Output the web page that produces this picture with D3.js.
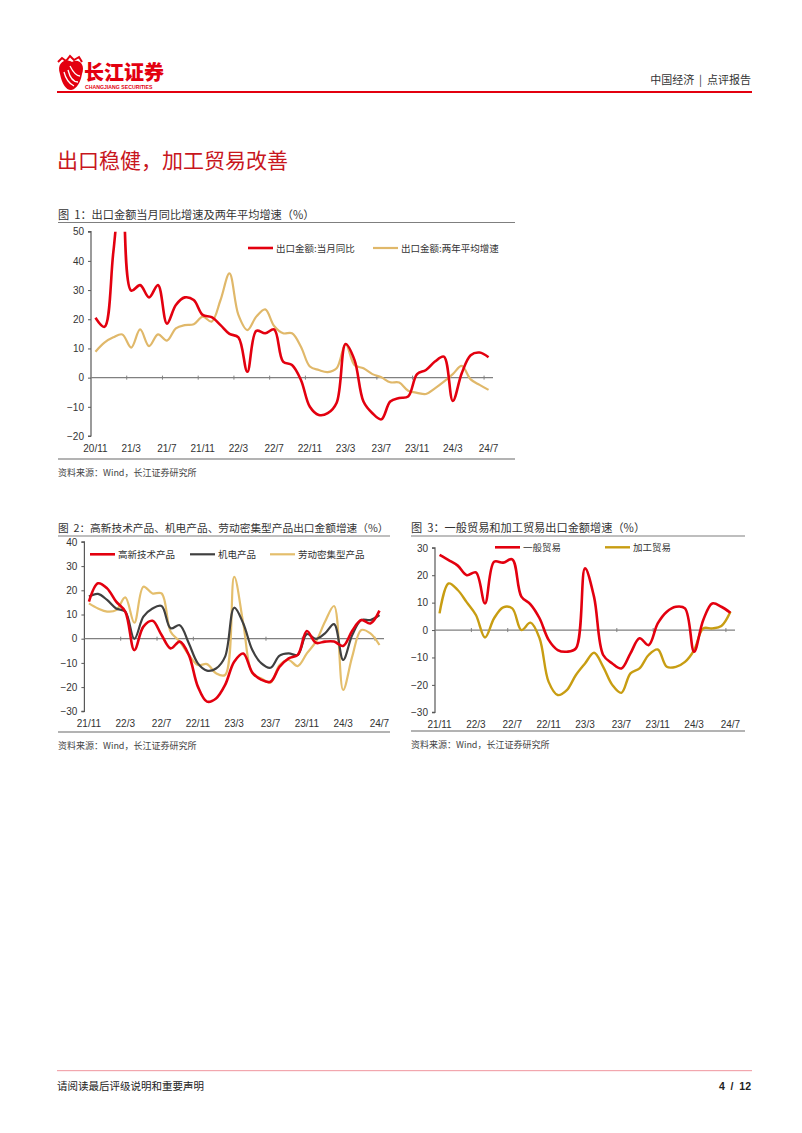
<!DOCTYPE html>
<html><head><meta charset="utf-8">
<script src="https://cdn.jsdelivr.net/npm/d3@7"></script>
<style>
html,body{margin:0;padding:0;background:#fff;}
svg text{font-family:"Liberation Sans","Noto Sans CJK SC",Arial,sans-serif;}
.cjk{font-family:"Noto Sans CJK SC","Liberation Sans",sans-serif;}
</style></head>
<body>
<svg id="pg" width="802" height="1133"></svg>
<script>
// ---------- DATA ----------
const months1 = ["20/11","20/12","21/1","21/2","21/3","21/4","21/5","21/6","21/7","21/8","21/9","21/10","21/11","21/12",
 "22/1","22/2","22/3","22/4","22/5","22/6","22/7","22/8","22/9","22/10","22/11","22/12",
 "23/1","23/2","23/3","23/4","23/5","23/6","23/7","23/8","23/9","23/10","23/11","23/12",
 "24/1","24/2","24/3","24/4","24/5","24/6","24/7"];
const ticks1 = ["20/11","21/3","21/7","21/11","22/3","22/7","22/11","23/3","23/7","23/11","24/3","24/7"];
const exportYoY = [20.5,17.4,43,70,29.8,31.7,27.5,31.7,18.5,24.9,27.5,26.6,21.5,20.7,18,15,13.8,2.0,16,15.2,16.5,5.5,4.3,-0.8,-10,-12.8,-12.2,-8.6,11.5,6,-8.2,-12.2,-14.3,-8.2,-7,-6.5,1.2,2.6,5.5,7.2,-8,1.5,7.7,8.6,7];
const export2Y = [8.9,12,13.8,14.8,10.3,16.5,10.8,14.8,12.7,16.9,18,18.3,20.9,19.2,26.6,35.7,21.5,16.3,20.9,23.4,17.7,15.2,15.2,10.6,3.8,2.6,1.9,3.2,11.5,4.3,3.2,1.2,0.1,-1.6,-1.7,-4.5,-5.2,-5.6,-3.7,-1.4,1.2,4,-0.6,-2.5,-4.2];
const yTicks1 = [50,40,30,20,10,0,-10,-20];

const months2 = ["21/11","21/12","22/1","22/2","22/3","22/4","22/5","22/6","22/7","22/8","22/9","22/10","22/11","22/12",
 "23/1","23/2","23/3","23/4","23/5","23/6","23/7","23/8","23/9","23/10","23/11","23/12",
 "24/1","24/2","24/3","24/4","24/5","24/6","24/7"];
const ticks2 = ["21/11","22/3","22/7","22/11","23/3","23/7","23/11","24/3","24/7"];
const hiTech = [15.3,22.9,20.8,15.3,11.2,-4.7,5,7.4,1.5,-4,-1.2,-6.7,-19.8,-26,-24.7,-19.1,-9.5,-6.1,-14,-17,-17.8,-11.6,-8.1,-6.7,3.2,-1.7,-1.2,-1.2,-3,3.3,7.7,6.3,11.6];
const mechElec = [17.4,18.5,16,12.5,11.2,-0.1,9.1,12.5,13.5,4.3,5.6,-1.9,-10.2,-13.2,-12.3,-7.4,12.8,6.3,-4.7,-10.2,-12,-7,-6.1,-6.7,1.9,-0.1,2.2,6,-8.8,1.5,7.7,7.7,9.8];
const laborInt = [14.6,12.5,11.2,11.8,17.1,6.6,21.5,18.7,18.7,2.9,-1.2,-6.7,-10.9,-10.5,-14.3,-15,25.6,6.3,-14.3,-16.4,-18.2,-10.9,-8.8,-11.3,-6.1,-1.2,7,13.5,-21.2,-7.4,3.6,2.2,-2.6];
const yTicks2 = [40,30,20,10,0,-10,-20,-30];

const generalTrade = [27.4,25.5,23.5,20,21,9.7,24.9,24.6,25.8,12.2,9.4,4.3,-3.6,-7.3,-7.9,-6.7,22.5,12,-9.1,-12.2,-14,-8.5,-3,-5.5,2.4,6.7,8.5,7.9,-7.9,3.6,9.7,8.5,6.3];
const processTrade = [6.1,17,14.6,10.1,5.5,-2.7,4.3,8.3,7.9,0,2.7,-3,-18.9,-23.7,-21.9,-16.4,-12.2,-8.3,-13.4,-20,-22.9,-15.8,-14,-9.1,-7.1,-13.4,-13.4,-11.6,-7.3,0.6,0.6,1.5,6.7];
const yTicks3 = [30,20,10,0,-10,-20,-30];

// ---------- COLORS ----------
const RED = "#e3000f", TAN = "#e0b86a", DARK = "#404040", TAN2 = "#e4be6c", GOLD = "#c89d12";

const svg = d3.select("#pg");

// ---------- HEADER ----------
const logo = svg.append("g");
logo.append("path").attr("d","M60,74 C56,62 66,58 72,62 C78,58 86,64 82,74 C80,86 74,90 71,90 C66,90 62,84 60,74 Z").attr("fill",RED);
logo.append("path").attr("d","M64,72 C66,80 70,84 74,86 M68,70 C70,78 74,82 78,82 M70,66 C73,72 77,76 80,76").attr("stroke","#fff").attr("stroke-width",1.3).attr("fill","none");
logo.append("path").attr("d","M58,62 L62,58 L66,61 L70,56 L74,60 L79,57 L82,62").attr("stroke",RED).attr("stroke-width",2).attr("fill","none");
logo.append("text").attr("class","cjk").attr("x",84).attr("y",80).attr("font-size",20).attr("font-weight",900).attr("fill",RED).text("长江证券");
logo.append("text").attr("x",85).attr("y",89).attr("font-size",5.2).attr("font-weight","bold").attr("fill",RED).text("CHANGJIANG SECURITIES");
svg.append("text").attr("class","cjk").attr("x",751).attr("y",84).attr("text-anchor","end").attr("font-size",11).attr("fill","#333").attr("xml:space","preserve").text("中国经济  |  点评报告");
svg.append("rect").attr("x",57).attr("y",91).attr("width",695).attr("height",2).attr("fill",RED);

svg.append("text").attr("class","cjk").attr("x",57).attr("y",168).attr("font-size",21).attr("fill","#c8161d").text("出口稳健，加工贸易改善");

// ---------- FOOTER ----------
svg.append("rect").attr("x",57).attr("y",1070).attr("width",695).attr("height",1.2).attr("fill","#f2a7ae");
svg.append("text").attr("class","cjk").attr("x",57).attr("y",1090).attr("font-size",10.5).attr("fill","#222").text("请阅读最后评级说明和重要声明");
svg.append("text").attr("x",751).attr("y",1090).attr("text-anchor","end").attr("font-size",10.5).attr("font-weight","bold").attr("fill","#222").attr("xml:space","preserve").text("4  /  12");

// ---------- GENERIC CHART ----------
let clipId = 0;
function chart(o){
  const g = svg.append("g");
  g.append("text").attr("class","cjk").attr("x",o.titleX).attr("y",o.titleY).attr("font-size",o.titleSize).attr("fill","#333").attr("xml:space","preserve").text(o.title);
  g.append("rect").attr("x",o.titleX).attr("y",o.lineY).attr("width",o.frameW).attr("height",1).attr("fill","#7f7f7f");
  g.append("rect").attr("x",o.titleX).attr("y",o.bottomY).attr("width",o.frameW).attr("height",2).attr("fill","#b3b3b3");
  g.append("text").attr("class","cjk").attr("x",o.titleX).attr("y",o.bottomY+18).attr("font-size",9).attr("fill","#444").text("资料来源：Wind，长江证券研究所");

  const x = d3.scaleBand().domain(o.months).range([o.x0,o.x1]).paddingInner(0).paddingOuter(0);
  const cx = m => x(m) + x.bandwidth()/2;
  const y = d3.scaleLinear().domain(o.yDomain).range([o.yBottom,o.yTop]);

  const ya = g.append("g").attr("transform",`translate(${o.x0},0)`)
    .call(d3.axisLeft(y).tickValues(o.yTicks).tickSize(3).tickPadding(4).tickFormat(d3.format("d")));
  ya.select(".domain").attr("stroke","#595959").attr("stroke-width",1.2).attr("d",`M-3,${y(o.yDomain[1])}H0V${y(o.yDomain[0])}H-3`);
  ya.selectAll(".tick line").attr("stroke","#595959");
  ya.selectAll(".tick text").attr("font-size",10).attr("fill","#333").attr("font-family","Liberation Sans, Arial, sans-serif");

  const y0 = y(0);
  g.append("line").attr("x1",o.x0).attr("x2",o.x1).attr("y1",y0).attr("y2",y0).attr("stroke","#808080").attr("stroke-width",1.2);
  o.ticks.forEach((t,k)=>{ if(k===0) return;
    const xx = x(t);
    g.append("line").attr("x1",xx).attr("x2",xx).attr("y1",y0-2).attr("y2",y0+2).attr("stroke","#808080");
  });
  o.ticks.forEach(t=>{
    g.append("text").attr("x",cx(t)).attr("y",o.labelY).attr("text-anchor","middle").attr("font-size",10).attr("fill","#333").text(t);
  });

  const id = "clip"+(clipId++);
  g.append("clipPath").attr("id",id).append("rect").attr("x",o.x0).attr("y",o.yTop).attr("width",o.x1-o.x0+10).attr("height",o.yBottom-o.yTop);
  const line = d3.line().x((d,i)=>cx(o.months[i])).y(d=>y(d)).curve(d3.curveCatmullRom.alpha(0.5));
  o.series.forEach(s=>{
    g.append("path").attr("clip-path",`url(#${id})`).attr("d",line(s.values)).attr("fill","none")
      .attr("stroke",s.color).attr("stroke-width",s.w).attr("stroke-linejoin","round");
  });
  o.legend.forEach(l=>{
    g.append("line").attr("x1",l.x).attr("x2",l.x+25).attr("y1",l.y).attr("y2",l.y).attr("stroke",l.color).attr("stroke-width",l.w);
    g.append("text").attr("class","cjk").attr("x",l.x+28).attr("y",l.y+3.5).attr("font-size",9.5).attr("fill","#333").text(l.label);
  });
}

chart({
  title:"图  1：出口金额当月同比增速及两年平均增速（%）",titleSize:11.2,
  titleX:58,titleY:219,lineY:222,frameW:457,bottomY:458,
  months:months1,ticks:ticks1,x0:91,x1:493,
  yDomain:[-20,50],yTop:231.7,yBottom:436,yTicks:yTicks1,labelY:452,
  series:[{values:export2Y,color:TAN,w:2.2},{values:exportYoY,color:RED,w:2.6}],
  legend:[{x:248,y:248,color:RED,w:2.6,label:"出口金额:当月同比"},{x:373,y:248,color:TAN,w:2.2,label:"出口金额:两年平均增速"}]
});

chart({
  title:"图  2：高新技术产品、机电产品、劳动密集型产品出口金额增速（%）",titleSize:10.7,
  titleX:58,titleY:532,lineY:535.5,frameW:332,bottomY:731,
  months:months2,ticks:ticks2,x0:84.4,x1:384,
  yDomain:[-30,40],yTop:541.9,yBottom:711.3,yTicks:yTicks2,labelY:727,
  series:[{values:laborInt,color:TAN2,w:2.2},{values:mechElec,color:DARK,w:2.2},{values:hiTech,color:RED,w:2.6}],
  legend:[{x:90,y:554.3,color:RED,w:2.6,label:"高新技术产品"},{x:190,y:554.3,color:DARK,w:2.2,label:"机电产品"},{x:270,y:554.3,color:TAN2,w:2.2,label:"劳动密集型产品"}]
});

chart({
  title:"图  3：一般贸易和加工贸易出口金额增速（%）",titleSize:11.2,
  titleX:411,titleY:532,lineY:535.5,frameW:334,bottomY:730,
  months:months2,ticks:ticks2,x0:435,x1:735,
  yDomain:[-30,30],yTop:547.8,yBottom:712.3,yTicks:yTicks3,labelY:728,
  series:[{values:processTrade,color:GOLD,w:2.4},{values:generalTrade,color:RED,w:2.6}],
  legend:[{x:495,y:547.3,color:RED,w:2.6,label:"一般贸易"},{x:605,y:547.3,color:GOLD,w:2.4,label:"加工贸易"}]
});
</script>
</body></html>
